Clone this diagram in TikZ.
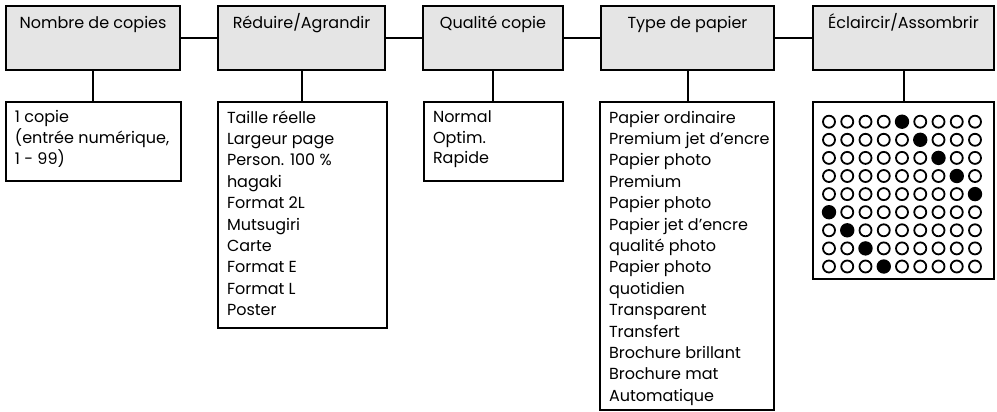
\documentclass[tikz,border=0pt]{standalone}
\usepackage{fontspec}
\setmainfont{Poppins}
\newcommand\toptext[2]{\parbox[c][56pt][t]{#1}{\centering\rule{0pt}{19pt}#2}}
\newcommand\lowtext[4]{\parbox[c][#2][t]{#1}{\fontsize{16}{#3}\selectfont
  \begin{tabular}[t]{@{}l@{}}\rule{0pt}{18pt}#4\end{tabular}}}
\begin{document}
\begin{tikzpicture}[x=1pt,y=-1pt,line width=2pt,
  font=\fontsize{16}{21}\selectfont,
  topbox/.style={draw,fill=black!10,anchor=north west,inner xsep=4pt,inner ysep=4pt},
  lowbox/.style={draw,fill=white,anchor=north west,inner xsep=9pt,inner ysep=3pt},
  ring/.style={draw,fill=white,line width=1.8pt},
  dot/.style={fill=black}]
\useasboundingbox (0,0) rectangle (997,412);
% top row
\node[topbox] (B1) at (5,5)   {\toptext{166pt}{Nombre de copies}};
\node[topbox] (B2) at (217,5) {\toptext{159pt}{Réduire/Agrandir}};
\node[topbox] (B3) at (422,5) {\toptext{132pt}{Qualité copie}};
\node[topbox] (B4) at (600,5) {\toptext{165pt}{Type de papier}};
\node[topbox] (B5) at (812,5) {\toptext{173pt}{Éclaircir/Assombrir}};
\draw (B1) -- (B2);
\draw (B2) -- (B3);
\draw (B3) -- (B4);
\draw (B4) -- (B5);
% lower row
\node[lowbox] (L1) at (5,101)   {\lowtext{157pt}{73pt}{20pt}{1 copie\\(entrée numérique,\\1 - 99)}};
\node[lowbox] (L2) at (217,101) {\lowtext{151pt}{220pt}{21.4pt}{Taille réelle\\Largeur page\\Person. 100 \%\\hagaki\\Format 2L\\Mutsugiri\\Carte\\Format E\\Format L\\Poster}};
\node[lowbox] (L3) at (423,101) {\lowtext{121pt}{73pt}{20pt}{Normal\\Optim.\\Rapide}};
\node[lowbox] (L4) at (599,101) {\lowtext{156pt}{302pt}{21.4pt}{Papier ordinaire\\Premium jet d’encre\\Papier photo\\Premium\\Papier photo\\Papier jet d’encre\\qualité photo\\Papier photo\\quotidien\\Transparent\\Transfert\\Brochure brillant\\Brochure mat\\Automatique}};
\node[draw,fill=white,anchor=north west,inner sep=0pt,minimum width=181pt,minimum height=177pt] (L5) at (812,101) {};
\draw (B1.south) -- (B1.south |- L1.north);
\draw (B2.south) -- (B2.south |- L2.north);
\draw (B3.south) -- (B3.south |- L3.north);
\draw (B4.south) -- (B4.south |- L4.north);
\draw (B5.south) -- (B5.south |- L5.north);
% dot grid
\foreach \j in {0,...,8}{
  \foreach \i in {0,...,8}{
    \pgfmathtruncatemacro\f{mod(\j+4,9)}
    \ifnum\i=\f
      \fill[dot] (829+18.25*\i,121.7+18.1*\j) circle[radius=7.2pt];
    \else
      \draw[ring] (829+18.25*\i,121.7+18.1*\j) circle[radius=6pt];
    \fi
  }
}
\end{tikzpicture}
\end{document}
